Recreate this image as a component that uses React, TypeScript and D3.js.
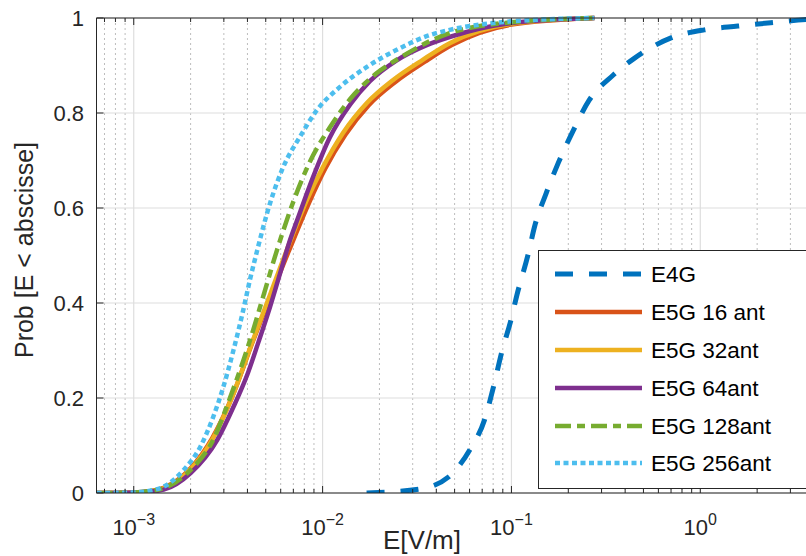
import React from "react";
import * as d3 from "d3";

const W = 806;
const H = 556;

// ---- data ----
const e4gE = [0.0171, 0.0323, 0.0465, 0.06, 0.072, 0.0803, 0.0886, 0.1, 0.1063, 0.123, 0.1324, 0.153, 0.177, 0.213, 0.258, 0.346, 0.447, 0.7, 1.05, 1.58, 2.36, 3.66, 4];
const e4gP = [0, 0.008, 0.034, 0.09, 0.154, 0.223, 0.295, 0.368, 0.413, 0.505, 0.56, 0.632, 0.695, 0.764, 0.827, 0.88, 0.915, 0.958, 0.975, 0.983, 0.99, 0.997, 0.998];

const e16E = [0.000636, 0.001, 0.00122, 0.00144, 0.002, 0.0026, 0.0033, 0.00428, 0.0053, 0.0066, 0.0085, 0.0103, 0.0132, 0.0176, 0.0242, 0.0348, 0.0483, 0.1, 0.275];
const e16P = [0, 0.001, 0.004, 0.011, 0.052, 0.115, 0.2, 0.32, 0.415, 0.508, 0.612, 0.682, 0.754, 0.817, 0.865, 0.908, 0.943, 0.986, 1.0];

const e32E = [0.000636, 0.001, 0.00122, 0.00144, 0.002, 0.0026, 0.0033, 0.00428, 0.0053, 0.00647, 0.00826, 0.01004, 0.01282, 0.01715, 0.02353, 0.0339, 0.0471, 0.1, 0.275];
const e32P = [0, 0.001, 0.004, 0.01, 0.05, 0.112, 0.2, 0.322, 0.42, 0.512, 0.617, 0.686, 0.758, 0.821, 0.869, 0.912, 0.947, 0.988, 1.0];

const e64E = [0.000636, 0.001, 0.00122, 0.00144, 0.002, 0.00277, 0.00337, 0.004, 0.00456, 0.00527, 0.00596, 0.00673, 0.00733, 0.0089, 0.0109, 0.014, 0.0178, 0.0247, 0.0356, 0.047, 0.098, 0.275];
const e64P = [0, 0.001, 0.003, 0.007, 0.042, 0.112, 0.181, 0.25, 0.316, 0.392, 0.463, 0.533, 0.574, 0.665, 0.748, 0.818, 0.867, 0.911, 0.943, 0.96, 0.989, 1.0];

const e128E = [0.000636, 0.001, 0.00122, 0.001436, 0.001995, 0.002635, 0.003245, 0.00413, 0.00484, 0.00574, 0.00698, 0.00858, 0.01094, 0.01396, 0.01937, 0.0266, 0.0383, 0.0471, 0.1, 0.275];
const e128P = [0, 0.001, 0.004, 0.01, 0.048, 0.112, 0.202, 0.322, 0.413, 0.512, 0.612, 0.698, 0.77, 0.829, 0.884, 0.92, 0.954, 0.968, 0.991, 1.0];

const e256E = [0.000636, 0.001, 0.00122, 0.001436, 0.001832, 0.00225, 0.002635, 0.00298, 0.00337, 0.0038, 0.00413, 0.0045, 0.00527, 0.00617, 0.00759, 0.00933, 0.01236, 0.01715, 0.0247, 0.0369, 0.0471, 0.1, 0.275];
const e256P = [0, 0.001, 0.005, 0.013, 0.048, 0.097, 0.16, 0.223, 0.3, 0.385, 0.45, 0.51, 0.61, 0.685, 0.75, 0.806, 0.855, 0.897, 0.933, 0.964, 0.975, 0.993, 1.0];

const seriesNames = ["E4G", "E5G 16 ant", "E5G 32ant", "E5G 64ant", "E5G 128ant", "E5G 256ant"];
const seriesColors = ["#0072BD", "#D95319", "#EDB120", "#7E2F8E", "#77AC30", "#4DBEEE"];
const seriesDash = ["18,16", "", "", "", "16,6,8,6", "5,3.5"];
const seriesX = [e4gE, e16E, e32E, e64E, e128E, e256E];
const seriesY = [e4gP, e16P, e32P, e64P, e128P, e256P];

const yTicks = [0, 0.2, 0.4, 0.6, 0.8, 1];
const yTickLabels = ["0", "0.2", "0.4", "0.6", "0.8", "1"];
const xDecades = [-3, -2, -1, 0];
const xDomain = [0.000635, 4];

export default function App() {
  const left = 96.5, right = 814, top = 18, bottom = 493;
  const x = d3.scaleLog().domain(xDomain).range([left, right]);
  const y = d3.scaleLinear().domain([0, 1]).range([bottom, top]);

  const minor: number[] = [];
  for (let k = -4; k <= 0; k++) {
    for (let m = 2; m <= 9; m++) {
      const v = m * Math.pow(10, k);
      if (v > xDomain[0] && v < xDomain[1]) minor.push(v);
    }
  }
  const font = "'Liberation Sans', Arial, Helvetica, sans-serif";
  const axisColor = "#262626";

  const line = d3
    .line<[number, number]>()
    .x((d) => x(d[0]))
    .y((d) => y(d[1]))
    .curve(d3.curveMonotoneX);

  const legendRows = [274, 312, 350, 388, 426, 463];

  return (
    <svg width={W} height={H} style={{ position: "absolute", left: 0, top: 0, background: "#fff" }} fontFamily={font}>
      <defs>
        <clipPath id="plotclip">
          <rect x={left} y={top - 4} width={right - left} height={bottom - top + 4} />
        </clipPath>
      </defs>
      <rect x={0} y={0} width={W} height={H} fill="#fff" />
      {/* minor grid */}
      {minor.map((v, i) => (
        <line key={"mg" + i} x1={x(v)} x2={x(v)} y1={top} y2={bottom} stroke="#bdbdbd" strokeWidth={1} strokeDasharray="2,3" />
      ))}
      {/* major grid */}
      {xDecades.map((k) => (
        <line key={"Mg" + k} x1={x(Math.pow(10, k))} x2={x(Math.pow(10, k))} y1={top} y2={bottom} stroke="#dedede" strokeWidth={1.2} />
      ))}
      {yTicks.map((t, i) => (
        <line key={"yg" + i} x1={left} x2={right} y1={y(t)} y2={y(t)} stroke="#dedede" strokeWidth={1.2} />
      ))}
      {/* series */}
      <g clipPath="url(#plotclip)">
        {seriesX.map((xs, i) => {
          const pts: [number, number][] = xs.map((v, j) => [v, seriesY[i][j]]);
          return (
            <path
              key={"s" + i}
              d={line(pts) || ""}
              fill="none"
              stroke={seriesColors[i]}
              strokeWidth={i === 0 ? 5 : 4.5}
              strokeDasharray={seriesDash[i] || undefined}
              strokeLinejoin="round"
            />
          );
        })}
      </g>
      {/* axes box */}
      <line x1={left} x2={right} y1={bottom} y2={bottom} stroke={axisColor} strokeWidth={1} />
      <line x1={left} x2={right} y1={top} y2={top} stroke={axisColor} strokeWidth={1} />
      <line x1={left} x2={left} y1={top} y2={bottom} stroke={axisColor} strokeWidth={1} />
      {/* x ticks */}
      {minor.map((v, i) => (
        <g key={"mt" + i}>
          <line x1={x(v)} x2={x(v)} y1={bottom} y2={bottom - 4} stroke={axisColor} />
          <line x1={x(v)} x2={x(v)} y1={top} y2={top + 4} stroke={axisColor} />
        </g>
      ))}
      {xDecades.map((k) => (
        <g key={"Mt" + k}>
          <line x1={x(Math.pow(10, k))} x2={x(Math.pow(10, k))} y1={bottom} y2={bottom - 7} stroke={axisColor} />
          <line x1={x(Math.pow(10, k))} x2={x(Math.pow(10, k))} y1={top} y2={top + 7} stroke={axisColor} />
          <text x={x(Math.pow(10, k))} y={535} textAnchor="middle" fontSize={22} fill={axisColor}>
            10
            <tspan fontSize={16} dy={-10}>{String(k).replace("-", "\u2212")}</tspan>
          </text>
        </g>
      ))}
      {/* y ticks */}
      {yTicks.map((t, i) => (
        <g key={"yt" + i}>
          <line x1={left} x2={left + 7} y1={y(t)} y2={y(t)} stroke={axisColor} />
          <text x={84} y={y(t) + 8} textAnchor="end" fontSize={22} fill={axisColor}>
            {yTickLabels[i]}
          </text>
        </g>
      ))}
      {/* axis labels */}
      <text x={422} y={549} textAnchor="middle" fontSize={26} fill={axisColor}>
        E[V/m]
      </text>
      <text transform="translate(33,250) rotate(-90)" textAnchor="middle" fontSize={25} fill={axisColor}>
        Prob [E &lt; abscisse]
      </text>
      {/* legend */}
      <rect x={538.5} y={250.5} width={290} height={238} fill="#fff" stroke={axisColor} strokeWidth={1} />
      {seriesNames.map((n, i) => (
        <g key={"lg" + i}>
          <line
            x1={555}
            x2={642}
            y1={legendRows[i]}
            y2={legendRows[i]}
            stroke={seriesColors[i]}
            strokeWidth={i === 0 ? 5 : 4.5}
            strokeDasharray={seriesDash[i] || undefined}
          />
          <text x={651} y={legendRows[i] + 8} fontSize={22.5} fill="#000">
            {n}
          </text>
        </g>
      ))}
    </svg>
  );
}
